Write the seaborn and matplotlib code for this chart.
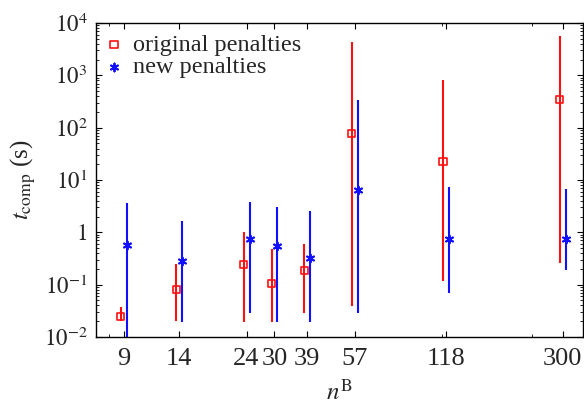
import numpy as np
import matplotlib
matplotlib.use("Agg")
import matplotlib.pyplot as plt
import seaborn as sns
from matplotlib.ticker import FixedLocator, NullFormatter, LogLocator

n_values = [9, 14, 24, 30, 39, 57, 118, 300]
x_tick_labels = ["9", "14", "24", "30", "39", "57", "118", "300"]

orig_mid = [0.025, 0.08, 0.245, 0.107, 0.19, 77, 22.8, 349]
orig_low = [0.020, 0.020, 0.019, 0.019, 0.029, 0.039, 0.117, 0.26]
orig_high = [0.038, 0.245, 1.0, 0.47, 0.61, 4360, 805, 5600]

new_mid = [0.58, 0.28, 0.75, 0.56, 0.33, 6.35, 0.76, 0.76]
new_low = [0.005, 0.019, 0.029, 0.019, 0.019, 0.029, 0.069, 0.19]
new_high = [3.6, 1.65, 3.75, 3.05, 2.55, 345, 7.2, 6.6]

y_tick_values = [1e-2, 1e-1, 1, 1e1, 1e2, 1e3, 1e4]
y_tick_labels = [r"$10^{-2}$", r"$10^{-1}$", r"$1$", r"$10^{1}$", r"$10^{2}$", r"$10^{3}$", r"$10^{4}$"]

sns.set_style("ticks")
plt.rcParams["font.family"] = ["Liberation Serif", "DejaVu Serif"]
plt.rcParams["mathtext.fontset"] = "stix"

fig = plt.figure(figsize=(5.84, 4.05), dpi=100)
ax = fig.add_axes([0.164, 0.168, 0.834, 0.775])

shift = 1.024
n = np.array(n_values, dtype=float)
xo = n / shift
xn = n * shift

om = np.array(orig_mid); nm = np.array(new_mid)
ax.errorbar(xo, om, yerr=[om - np.array(orig_low), np.array(orig_high) - om],
            fmt="none", ecolor="#ff1010", elinewidth=1.5, capsize=0, zorder=2)
ax.errorbar(xn, nm, yerr=[nm - np.array(new_low), np.array(new_high) - nm],
            fmt="none", ecolor="#1010ff", elinewidth=1.5, capsize=0, zorder=2)

sns.scatterplot(x=xo, y=om, marker="s", s=26, facecolor="none", edgecolor="#ff1010",
                linewidth=1.2, ax=ax, zorder=3, label="original penalties")
sns.scatterplot(x=xn, y=nm, marker=(6, 2, 0), s=32, color="#1010ff", edgecolor="#1010ff",
                linewidth=1.4, ax=ax, zorder=3, label="new penalties")

ax.set_xscale("log")
ax.set_yscale("log")
ax.set_xlim(7.2, 352)
ax.set_ylim(1e-2, 1e4)

ax.xaxis.set_major_locator(FixedLocator(n_values))
ax.set_xticklabels(x_tick_labels)
ax.xaxis.set_minor_locator(FixedLocator([8, 114, 235]))
ax.xaxis.set_minor_formatter(NullFormatter())

ax.set_yticks(y_tick_values)
ax.set_yticklabels(y_tick_labels)
ax.yaxis.set_minor_locator(LogLocator(base=10, subs=np.arange(2, 10)))
ax.yaxis.set_minor_formatter(NullFormatter())

ax.tick_params(which="both", direction="in", top=True, right=True, color="black")
ax.tick_params(which="major", length=4, width=0.8)
ax.tick_params(which="minor", length=2, width=0.6)
ax.tick_params(axis="x", pad=8, labelsize=19)
ax.tick_params(axis="y", pad=6, labelsize=16.5)
for sp in ax.spines.values():
    sp.set_linewidth(1.0)
    sp.set_color("black")

ax.set_xlabel(r"$n^{\mathrm{B}}$", fontsize=18, labelpad=7)
ax.set_ylabel(r"$t_{\mathrm{comp}}$ (s)", fontsize=18, labelpad=4)

leg = ax.legend(loc="upper left", frameon=False, fontsize=17.5, handlelength=0.6,
                handletextpad=0.5, labelspacing=0.0, borderaxespad=0.15, borderpad=0.3)

fig.savefig("out.png", dpi=100)
